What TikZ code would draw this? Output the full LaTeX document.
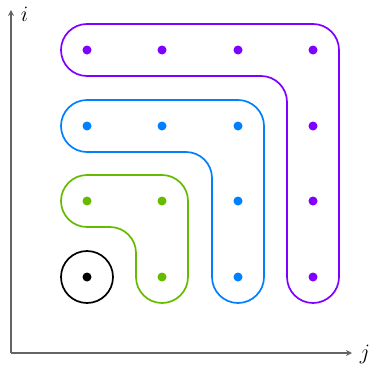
\documentclass[tikz,border=0pt]{standalone}
\usepackage{fix-cm}
\usetikzlibrary{arrows.meta}
\definecolor{cpurple}{RGB}{128,0,255}
\definecolor{cblue}{RGB}{0,128,255}
\definecolor{cgreen}{RGB}{102,187,0}
\definecolor{caxis}{RGB}{100,100,100}
\begin{document}
\begin{tikzpicture}[x=1pt,y=-1pt,
  axis/.style={draw=caxis,line width=1.8pt,-{Stealth[length=6pt,width=6pt,inset=2pt]}},
  band/.style={line width=1.7pt,rounded corners=26pt},
  dotnode/.style={circle,fill=#1,inner sep=0pt,minimum size=9pt},
  lab/.style={font=\fontsize{22}{26}\selectfont,inner sep=0pt}]
\useasboundingbox (0,0) rectangle (369,364);
% axes
\coordinate (O) at (11,353);
\coordinate (Itop) at (11,10);
\coordinate (Jend) at (352,353);
\draw[axis] (O) -- (Itop);
\draw[axis] (O) -- (Jend);
\node[lab] (li) at (24.5,14) {$i$};
\node[lab] (lj) at (365,354) {$j$};
% bands
\draw[band,cpurple] (200,24) -- (339,24) -- (339,303) -- (287,303) -- (287,76) -- (61,76) -- (61,24) -- cycle;
\draw[band,cblue] (150,100) -- (264,100) -- (264,303) -- (212,303) -- (212,152) -- (61,152) -- (61,100) -- cycle;
\draw[band,cgreen] (120,175) -- (188,175) -- (188,303) -- (136,303) -- (136,227) -- (61,227) -- (61,175) -- cycle;
% center
\node[dotnode=black] (c) at (87,277) {};
\draw[line width=1.7pt] (c.center) circle (26pt);
% dots
\node[dotnode=cgreen] (g1) at (87,201) {};
\node[dotnode=cgreen] (g2) at (162,201) {};
\node[dotnode=cgreen] (g3) at (162,277) {};
\node[dotnode=cblue] (b1) at (87,126) {};
\node[dotnode=cblue] (b2) at (162,126) {};
\node[dotnode=cblue] (b3) at (238,126) {};
\node[dotnode=cblue] (b4) at (238,201) {};
\node[dotnode=cblue] (b5) at (238,277) {};
\node[dotnode=cpurple] (p1) at (87,50) {};
\node[dotnode=cpurple] (p2) at (162,50) {};
\node[dotnode=cpurple] (p3) at (238,50) {};
\node[dotnode=cpurple] (p4) at (313,50) {};
\node[dotnode=cpurple] (p5) at (313,126) {};
\node[dotnode=cpurple] (p6) at (313,201) {};
\node[dotnode=cpurple] (p7) at (313,277) {};
\end{tikzpicture}
\end{document}
